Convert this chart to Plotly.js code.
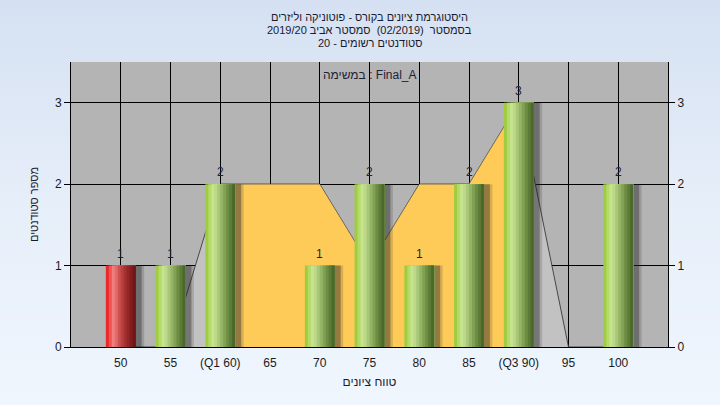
<!DOCTYPE html>
<html>
<head>
<meta charset="utf-8">
<script src="https://cdn.plot.ly/plotly-3.0.1.min.js"></script>
<style>
  html, body { margin: 0; padding: 0; }
  body { width: 720px; height: 405px; background: linear-gradient(180deg, #d5e1f2 0%, #e6eef9 50%, #eff6fe 100%); }
  #chart { width: 720px; height: 405px; }
</style>
</head>
<body>
<div id="chart"></div>
<script>
// ---- data ----
const categories = ['50', '55', '(Q1 60)', '65', '70', '75', '80', '85', '(Q3 90)', '95', '100'];
const studentCounts = [1, 1, 2, 0, 1, 2, 1, 2, 3, 0, 2];
const trendValues = [0, 0, 2, 2, 2, 1, 2, 2, 3, 0, 0];
const iqrStart = 2;   // index of Q1 category
const iqrEnd = 8;     // index of Q3 category
const failingCategory = '50';

const titleLines = [
  'היסטוגרמת ציונים בקורס - פוטוניקה וליזרים',
  'בסמסטר  (02/2019)  סמסטר אביב 2019/20',
  'סטודנטים רשומים - 20'
];
const taskLabel = 'במשימה : Final_A';
const xTitle = 'טווח ציונים';
const yTitle = 'מספר סטודנטים';

// ---- styles ----
const FONT = 'Liberation Sans, Arial, DejaVu Sans, sans-serif';
const TEXT_COLOR = '#1a1a30';
const greenShades = ['#a0cc42', '#b4da68', '#c6e38e', '#bdd889', '#a9c779', '#95b465', '#81a153', '#6e8d43', '#5c7b36', '#4b692a'];
const redShades   = ['#ea2828', '#ef5454', '#f07e7e', '#e06b6b', '#cc5050', '#b83f3f', '#a43030', '#922626', '#811d1d', '#6f1717'];
const BAR_W = 0.6;

const traces = [];

// area (trend) on main axes
traces.push({
  type: 'scatter', mode: 'lines', x: categories, y: trendValues,
  fill: 'tozeroy', fillcolor: '#c2c2c2',
  line: { color: 'rgba(50,50,50,0.85)', width: 1 }, xaxis: 'x', yaxis: 'y', hoverinfo: 'skip'
});
traces.push({
  type: 'scatter', mode: 'lines',
  x: categories.slice(iqrStart, iqrEnd + 1), y: trendValues.slice(iqrStart, iqrEnd + 1),
  fill: 'tozeroy', fillcolor: '#fecb58',
  line: { color: 'rgba(90,90,90,0.5)', width: 0.8 }, xaxis: 'x', yaxis: 'y', hoverinfo: 'skip'
});

// shadows
traces.push({
  type: 'bar', x: categories, y: studentCounts, width: BAR_W, offset: -BAR_W / 2 + 0.17,
  marker: { color: 'rgba(40,40,40,0.18)', line: { width: 0 } }, xaxis: 'x', yaxis: 'y2', hoverinfo: 'skip'
});
traces.push({
  type: 'bar', x: categories, y: studentCounts, width: BAR_W, offset: -BAR_W / 2 + 0.12,
  marker: { color: 'rgba(40,40,40,0.38)', line: { width: 0 } }, xaxis: 'x', yaxis: 'y2', hoverinfo: 'skip'
});

// gradient cylinder bars made of overlapping stripes
const nStripes = greenShades.length;
for (let i = 0; i < nStripes; i++) {
  const step = BAR_W / nStripes;
  traces.push({
    type: 'bar', x: categories, y: studentCounts,
    width: BAR_W - i * step, offset: -BAR_W / 2 + i * step,
    marker: {
      color: categories.map(c => c === failingCategory ? redShades[i] : greenShades[i]),
      line: { width: 0 }
    },
    xaxis: 'x', yaxis: 'y2', hoverinfo: 'skip'
  });
}

// value labels (annotations placed through the category axis: serial index of each category)
const valueLabels = categories.map((c, i) => ({
  x: i, y: studentCounts[i], xref: 'x', yref: 'y2',
  text: studentCounts[i] ? String(studentCounts[i]) : '',
  showarrow: false, xanchor: 'center', yanchor: 'middle', yshift: 12,
  font: { family: FONT, size: 12, color: '#1e1e38' }
})).filter(a => a.text !== '');

// subtitle lines
const subtitleLines = titleLines.slice(1).map((t, i) => ({
  text: t, xref: 'paper', yref: 'paper', x: 0.5, y: 1 + (62 - 30 - 13 * i) / 285,
  xanchor: 'center', yanchor: 'middle', showarrow: false,
  font: { family: FONT, size: 11, color: TEXT_COLOR }
}));

const layout = {
  width: 720, height: 405,
  margin: { l: 71, r: 52, t: 62, b: 58 },
  paper_bgcolor: 'rgba(0,0,0,0)',
  plot_bgcolor: '#b4b4b4',
  showlegend: false,
  barmode: 'overlay',
  font: { family: FONT, size: 12, color: '#1a1a1a' },
  title: {
    text: titleLines[0],
    x: 0.5, xanchor: 'center', xref: 'paper', y: 1 - 17 / 405, yanchor: 'middle',
    font: { family: FONT, size: 11, color: TEXT_COLOR }
  },
  xaxis: {
    type: 'category', categoryorder: 'array', categoryarray: categories,
    range: [-1, 11],
    showline: true, linecolor: '#000', linewidth: 1,
    showgrid: true, gridcolor: '#000', gridwidth: 1,
    ticks: '', ticklabelstandoff: 5,
    tickfont: { family: FONT, size: 12, color: '#1a1a1a' },
    title: { text: xTitle, standoff: 8, font: { family: FONT, size: 12, color: TEXT_COLOR } },
    fixedrange: true
  },
  yaxis: {
    range: [0, 3.5], dtick: 1, tick0: 0,
    showline: true, linecolor: '#000', linewidth: 1,
    ticks: 'outside', ticklen: 6, tickcolor: '#000',
    showgrid: true, gridcolor: '#000', gridwidth: 1, zeroline: false,
    tickfont: { family: FONT, size: 12, color: '#1a1a1a' },
    title: { text: yTitle, standoff: 14, font: { family: FONT, size: 11, color: TEXT_COLOR } },
    fixedrange: true
  },
  yaxis2: {
    overlaying: 'y', side: 'right', range: [0, 3.5], dtick: 1, tick0: 0,
    showline: true, linecolor: '#000', linewidth: 1,
    ticks: 'outside', ticklen: 6, tickcolor: '#000',
    showgrid: false, zeroline: false,
    tickfont: { family: FONT, size: 12, color: '#1a1a1a' },
    fixedrange: true
  },
  annotations: [{
    text: taskLabel, xref: 'paper', yref: 'paper', x: 0.5, y: 0.955,
    xanchor: 'center', yanchor: 'middle', showarrow: false,
    font: { family: FONT, size: 12, color: '#1e1e38' }
  }].concat(subtitleLines, valueLabels)
};

Plotly.newPlot('chart', traces, layout, { staticPlot: true, displayModeBar: false });
</script>
</body>
</html>
